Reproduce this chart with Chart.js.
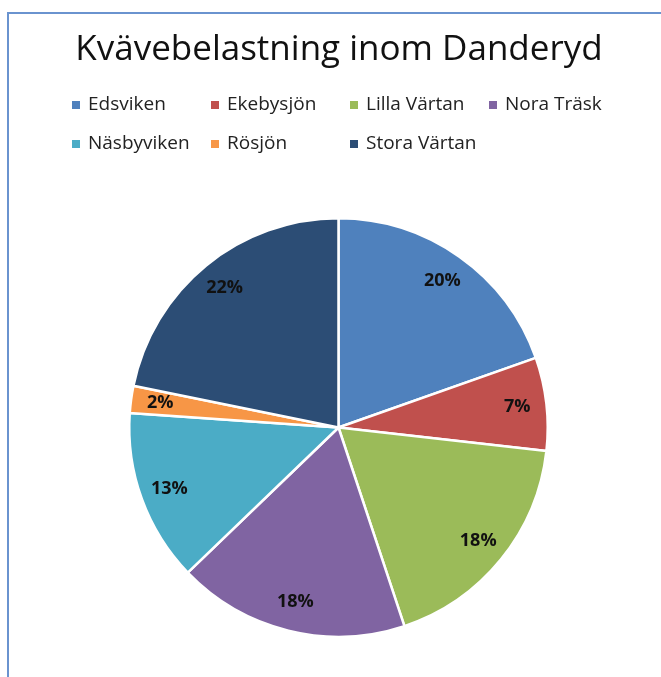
<!DOCTYPE html>
<html>
<head>
<meta charset="utf-8">
<script src="https://cdn.jsdelivr.net/npm/chart.js@4"></script>
<style>
  html, body { margin: 0; padding: 0; background: #fff; }
  #frame {
    position: absolute; left: 7px; top: 12px; width: 680px; height: 700px;
    border-left: 2px solid #6a93cf; border-top: 2px solid #6a93cf;
  }
  #wrap { position: absolute; left: 0; top: 0; width: 661px; height: 677px; }
</style>
</head>
<body>
<div id="frame"></div>
<div id="wrap"><canvas id="myChart"></canvas></div>
<script>
const Pie = document.getElementById('myChart');

const chartTitle = 'Kvävebelastning inom Danderyd';
const lakes = ['Edsviken', 'Ekebysjön', 'Lilla Värtan', 'Nora Träsk', 'Näsbyviken', 'Rösjön', 'Stora Värtan'];
const shares = [19.6, 7.2, 18.1, 17.9, 13.3, 2.1, 21.8];
const colors = ['#4F81BD', '#C0504D', '#9BBB59', '#8064A2', '#4BACC6', '#F79646', '#2C4D75'];

const FONT = '"Open Sans", Lato, sans-serif';

// title + legend drawn by hand: the layout padding would squeeze the built-in title
const header = {
    id: 'header',
    afterDraw(chart) {
        const ctx = chart.ctx;
        const labels = chart.data.labels;
        const bg = chart.data.datasets[0].backgroundColor;
        ctx.save();
        ctx.font = '35px ' + FONT;
        ctx.fillStyle = '#111';
        ctx.textAlign = 'center';
        ctx.textBaseline = 'alphabetic';
        ctx.fillText(chartTitle, 339, 60);

        // legend as a 4-column grid
        ctx.font = '19px ' + FONT;
        ctx.textBaseline = 'middle';
        ctx.textAlign = 'left';
        labels.forEach((lab, i) => {
            const col = i % 4;
            const row = Math.floor(i / 4);
            const x = 72 + col * 139;
            const y = 105 + row * 39;
            ctx.fillStyle = bg[i];
            ctx.fillRect(x, y - 4, 8, 8);
            ctx.fillStyle = '#222';
            ctx.fillText(lab, x + 16, y);
        });
        ctx.restore();
    }
};

// percentage labels inside the slices
const pctLabels = {
    id: 'pctLabels',
    afterDatasetsDraw(chart) {
        const ctx = chart.ctx;
        const meta = chart.getDatasetMeta(0);
        const data = chart.data.datasets[0].data;
        const total = data.reduce((a, b) => a + b, 0);
        ctx.save();
        ctx.font = 'bold 18px ' + FONT;
        ctx.fillStyle = '#111';
        ctx.textAlign = 'center';
        ctx.textBaseline = 'middle';
        meta.data.forEach((arc, i) => {
            const p = arc.getProps(['x', 'y', 'startAngle', 'endAngle', 'outerRadius'], true);
            const mid = (p.startAngle + p.endAngle) / 2;
            const r = p.outerRadius * 0.86;
            ctx.fillText(Math.round(data[i] / total * 100) + '%', p.x + Math.cos(mid) * r, p.y + Math.sin(mid) * r);
        });
        ctx.restore();
    }
};

new Chart(Pie, {
    type: 'pie',
    data: {
        labels: lakes,
        datasets: [{
            data: shares,
            backgroundColor: colors,
            borderColor: '#fff',
            borderWidth: 2.5
        }]
    },
    options: {
        animation: false,
        responsive: true,
        maintainAspectRatio: false,
        layout: {
            padding: { left: 128, right: 112, top: 217, bottom: 39 }
        },
        plugins: {
            legend: { display: false },
            tooltip: { enabled: false },
            title: { display: false }
        }
    },
    plugins: [header, pctLabels]
});
</script>
</body>
</html>
